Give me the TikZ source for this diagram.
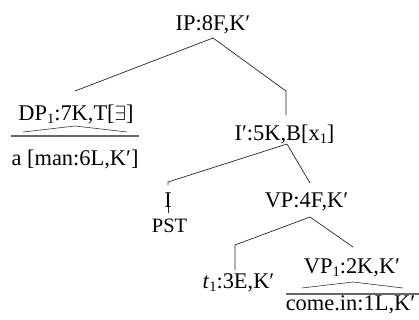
\documentclass[tikz,border=0pt]{standalone}
\usepackage{fontspec}
\setmainfont{Liberation Serif}
\usetikzlibrary{calc}
% small lowered index digit
\newcommand{\lsub}[1]{\raisebox{-0.3ex}{\fontsize{14.5}{15}\selectfont #1}}
\tikzset{
  lbl/.style={inner sep=0pt, anchor=base, font=\fontsize{22.5}{25}\selectfont},
  small/.style={font=\fontsize{20.5}{22}\selectfont},
  edge/.style={line width=0.7bp, draw=black!85},
  roof/.style={line width=0.6bp, draw=black!80},
  bar/.style={line width=1.3bp, draw=black!60},
}
\begin{document}
\begin{tikzpicture}[x=1bp, y=-1bp]
\useasboundingbox (0,0) rectangle (419,320);

% labels
\node[lbl] (ip)  at (213,30)    {IP:8F,K′};
\node[lbl] (dp)  at (76,120)    {DP\lsub{1}:7K,T[$\exists$]};
\node[lbl] (dpw) at (75,165)    {a [man:6L,K′]};
\node[lbl] (ib)  at (284.5,140) {I′:5K,B[x\lsub{1}]};
\node[lbl] (i)   at (168,207)   {I};
\node[lbl,small] (pst) at (169.5,232) {PST};
\node[lbl] (vp)  at (306.5,207) {VP:4F,K′};
\node[lbl] (t)   at (238.5,288) {\textit{t}\lsub{1}:3E,K′};
\node[lbl] (vp1) at (352,273)   {VP\lsub{1}:2K,K′};
\node[lbl] (vpw) at (350.5,310) {come.in:1L,K′};

% branch ends
\coordinate (ip-s)  at (213,38);
\coordinate (dp-n)  at (75,91);
\coordinate (ib-k)  at (286,91);
\coordinate (ib-n)  at (286,115);
\coordinate (ib-s)  at (287,144);
\coordinate (i-k)   at (168,182);
\coordinate (i-n)   at (168,185);
\coordinate (vp-n)  at (310,183);
\coordinate (i-s)   at (168,207);
\coordinate (pst-n) at (168,213);
\coordinate (vp-s)  at (310,217);
\coordinate (t-k)   at (235,245);
\coordinate (t-n)   at (235,270);
\coordinate (vp1-n) at (353,247);

% tree branches
\draw[edge] (ip-s) -- (dp-n);
\draw[edge] (ip-s) -- (ib-k) -- (ib-n);
\draw[edge] (ib-s) -- (i-k) -- (i-n);
\draw[edge] (ib-s) -- (vp-n);
\draw[edge] (i-s) -- (pst-n);
\draw[edge] (vp-s) -- (t-k) -- (t-n);
\draw[edge] (vp-s) -- (vp1-n);

% collapsed subtrees
\draw[roof] (23,132) -- (75,126) -- (127,132);
\draw[bar] (11,136) -- (139,136);
\draw[roof] (302,288) -- (353,282) -- (403,288);
\draw[bar] (286,294) -- (419,294);
\end{tikzpicture}
\end{document}
